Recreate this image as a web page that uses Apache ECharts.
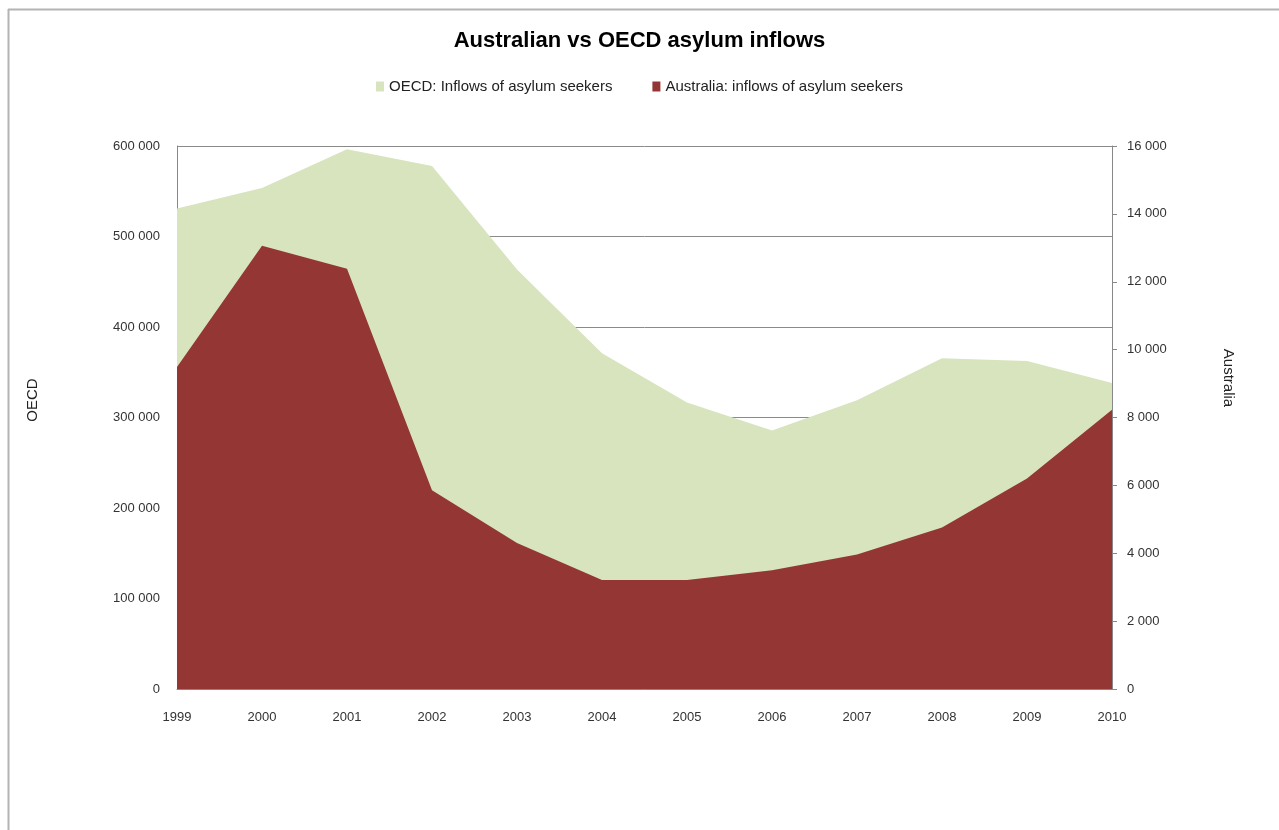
<!DOCTYPE html>
<html>
<head>
<meta charset="utf-8">
<script src="https://cdn.jsdelivr.net/npm/echarts@6/dist/echarts.min.js"></script>
<style>
html,body{margin:0;padding:0;background:#fff;}
#chart{width:1279px;height:830px;}
</style>
</head>
<body>
<div id="chart"></div>
<script>
var years = ['1999','2000','2001','2002','2003','2004','2005','2006','2007','2008','2009','2010'];
var oecdInflows = [531000, 553500, 596500, 578000, 463500, 371000, 316500, 285500, 319000, 365500, 362500, 338000];
var australiaInflows = [9490, 13060, 12380, 5860, 4300, 3210, 3210, 3500, 3960, 4760, 6200, 8230];
var seriesNames = ['OECD: Inflows of asylum seekers', 'Australia: inflows of asylum seekers'];

function fmt(v){
  return String(v).replace(/\B(?=(\d{3})+(?!\d))/g, ' ');
}
var font = 'Liberation Sans';
var chart = echarts.init(document.getElementById('chart'));
chart.setOption({
  animation: false,
  backgroundColor: '#ffffff',
  title: {
    text: 'Australian vs OECD asylum inflows',
    left: 'center', top: 25,
    textStyle: {fontFamily: font, fontWeight: 'bold', fontSize: 22, color: '#000'}
  },
  legend: {
    top: 74, left: 'center',
    itemWidth: 8, itemHeight: 10, itemGap: 40,
    icon: 'rect',
    textStyle: {fontFamily: font, fontSize: 15, color: '#222'},
    data: seriesNames
  },
  grid: {left: 177, right: 167, top: 146, bottom: 141},
  xAxis: {
    type: 'category', data: years, boundaryGap: false,
    axisLine: {lineStyle: {color: '#888', width: 1}},
    axisTick: {show: false},
    axisLabel: {fontFamily: font, fontSize: 13, color: '#333', margin: 22}
  },
  yAxis: [
    {
      type: 'value', min: 0, max: 600000, interval: 100000,
      axisLine: {show: true, lineStyle: {color: '#888'}},
      axisTick: {show: false},
      splitLine: {show: true, lineStyle: {color: '#8a8a8a', width: 1}},
      axisLabel: {fontFamily: font, fontSize: 13, color: '#333', margin: 17, formatter: fmt}
    },
    {
      type: 'value', min: 0, max: 16000, interval: 2000, position: 'right',
      axisLine: {show: true, lineStyle: {color: '#888'}},
      axisTick: {show: true, inside: false, length: 5, lineStyle: {color: '#888'}},
      splitLine: {show: false},
      axisLabel: {fontFamily: font, fontSize: 13, color: '#333', margin: 15, formatter: fmt}
    }
  ],
  series: [
    {
      name: seriesNames[0], type: 'line', yAxisIndex: 0, data: oecdInflows,
      symbol: 'none', lineStyle: {width: 0}, itemStyle: {color: '#d7e4bd'},
      areaStyle: {color: '#d7e4bd', opacity: 1}
    },
    {
      name: seriesNames[1], type: 'line', yAxisIndex: 1, data: australiaInflows,
      symbol: 'none', lineStyle: {width: 0}, itemStyle: {color: '#943634'},
      areaStyle: {color: '#943634', opacity: 1}
    }
  ],
  graphic: [
    {type: 'line', shape: {x1: 8, y1: 9.5, x2: 1279, y2: 9.5}, style: {stroke: '#b4b4b4', lineWidth: 2}},
    {type: 'line', shape: {x1: 8.5, y1: 9, x2: 8.5, y2: 830}, style: {stroke: '#b4b4b4', lineWidth: 2}},
    {type: 'text', x: 33, y: 400, rotation: Math.PI/2,
      style: {text: 'OECD', fontFamily: font, fontSize: 15, fill: '#222', textAlign: 'center', textVerticalAlign: 'middle'}},
    {type: 'text', x: 1228, y: 378, rotation: -Math.PI/2,
      style: {text: 'Australia', fontFamily: font, fontSize: 15, fill: '#222', textAlign: 'center', textVerticalAlign: 'middle'}}
  ]
});
</script>
</body>
</html>
